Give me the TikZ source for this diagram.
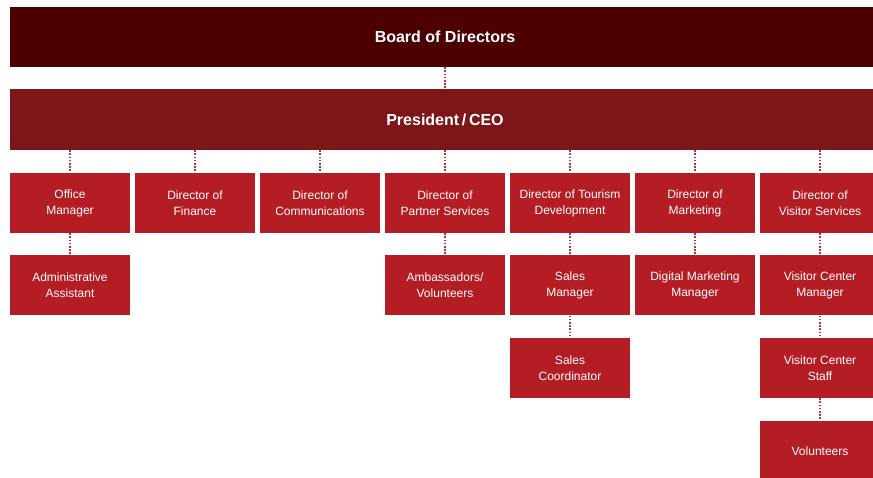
\documentclass[tikz,border=0pt]{standalone}
\usepackage{fontspec}
\setmainfont{Liberation Sans}
\definecolor{boardc}{HTML}{4C0002}
\definecolor{presc}{HTML}{7D1619}
\definecolor{boxc}{HTML}{B41D24}
\definecolor{dotc}{HTML}{B0353B}
\begin{document}
\begin{tikzpicture}[x=1pt,y=-1pt,
  box/.style={fill=boxc,text=white,minimum width=120pt,minimum height=60pt,inner sep=0pt,align=center,font=\fontsize{12}{16}\selectfont},
  bar/.style={text=white,minimum width=870pt,minimum height=60pt,inner sep=0pt,font=\fontsize{16}{18}\selectfont\bfseries},
  link/.style={draw=dotc,line width=2.2pt,dash pattern=on 1.6pt off 1.6pt}]
\useasboundingbox (0,0) rectangle (873,478);
\clip (0,0) rectangle (873,478);
\node[bar,fill=boardc] (board) at (445,37) {Board of Directors};
\node[bar,fill=presc,minimum height=61pt] (pres) at (445,119.5) {President\,/\,CEO};
\node[box] (om) at (70,203) {Office\\Manager};
\node[box] (fin) at (195,203) {Director of\\Finance};
\node[box] (com) at (320,203) {Director of\\Communications};
\node[box] (ps) at (445,203) {Director of\\Partner Services};
\node[box] (td) at (570,203) {Director of Tourism\\Development};
\node[box] (mk) at (695,203) {Director of\\Marketing};
\node[box] (vs) at (820,203) {Director of\\Visitor Services};
\node[box] (aa) at (70,285.5) {Administrative\\Assistant};
\node[box] (av) at (445,285.5) {Ambassadors/\\Volunteers};
\node[box] (sm) at (570,285.5) {Sales\\Manager};
\node[box] (dm) at (695,285.5) {Digital Marketing\\Manager};
\node[box] (vcm) at (820,285.5) {Visitor Center\\Manager};
\node[box] (sc) at (570,368) {Sales\\Coordinator};
\node[box] (vcs) at (820,368) {Visitor Center\\Staff};
\node[box] (vol) at (820,451) {Volunteers};
\draw[link] (board.south) -- (pres.north);
\foreach \n in {om,fin,com,ps,td,mk,vs}{
  \draw[link] (pres.south -| \n.north) -- (\n.north);
}
\draw[link] (om.south) -- (aa.north);
\draw[link] (ps.south) -- (av.north);
\draw[link] (td.south) -- (sm.north);
\draw[link] (mk.south) -- (dm.north);
\draw[link] (vs.south) -- (vcm.north);
\draw[link] (sm.south) -- (sc.north);
\draw[link] (vcm.south) -- (vcs.north);
\draw[link] (vcs.south) -- (vol.north);
\end{tikzpicture}
\end{document}
